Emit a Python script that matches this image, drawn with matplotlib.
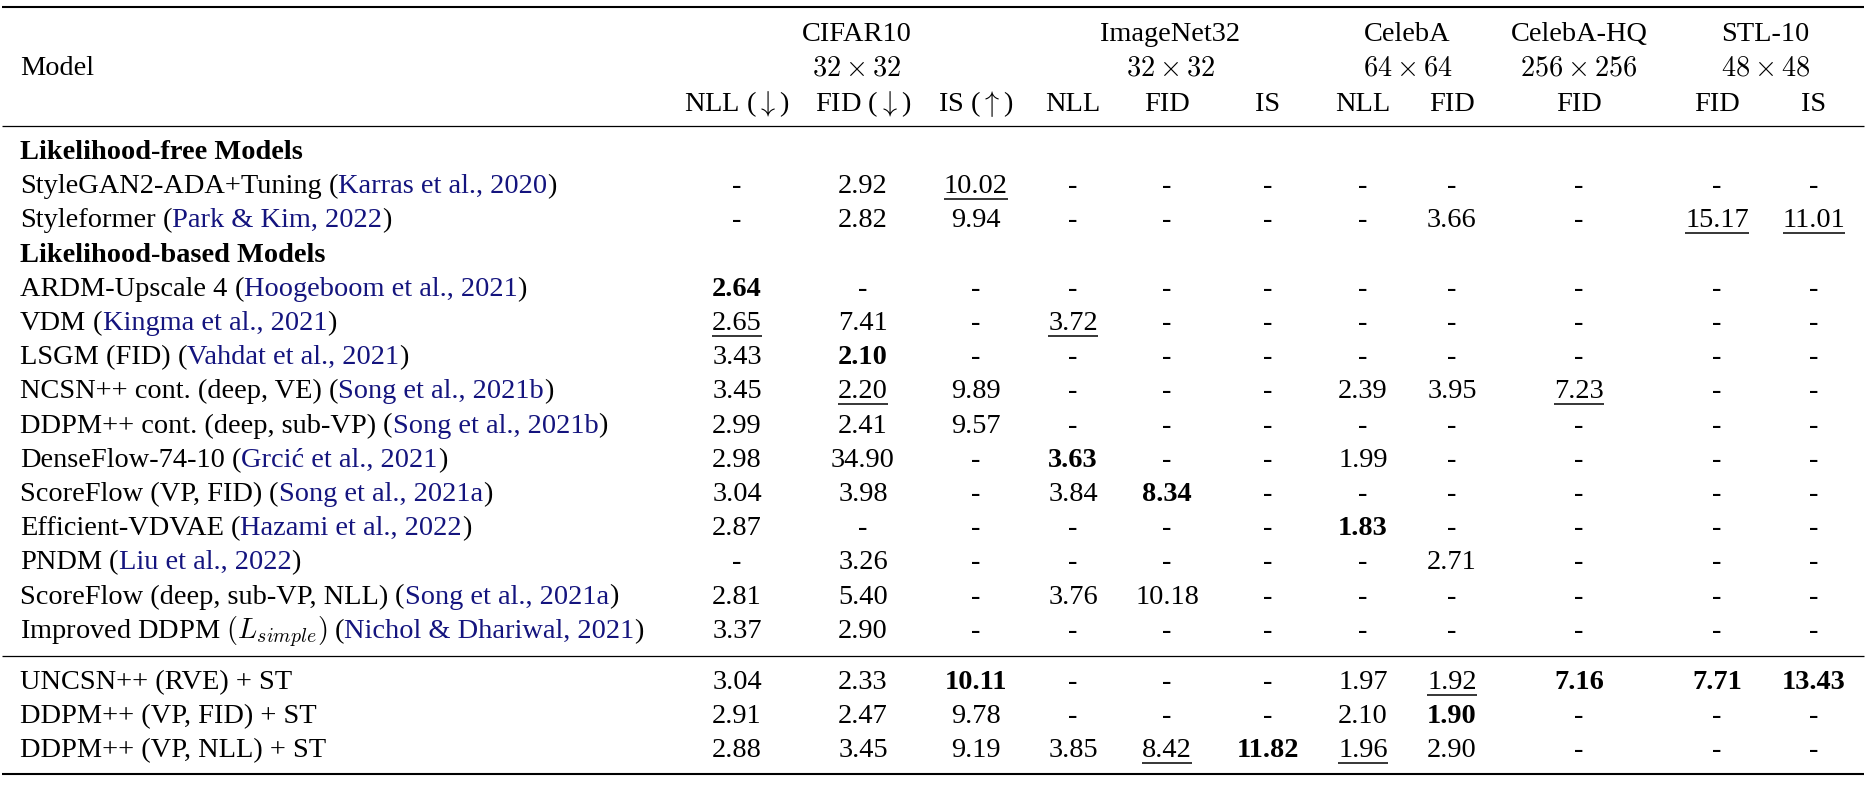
import matplotlib
matplotlib.use('Agg')
import matplotlib.pyplot as plt

plt.rcParams['font.family'] = ['Liberation Serif', 'DejaVu Serif']
plt.rcParams['mathtext.fontset'] = 'cm'

# data
groups = ['CIFAR10', 'ImageNet32', 'CelebA', 'CelebA-HQ', 'STL-10']
group_res = [r'$32\times32$', r'$32\times32$', r'$64\times64$', r'$256\times256$', r'$48\times48$']
group_cols = [(0, 2), (3, 5), (6, 7), (8, 8), (9, 10)]
metrics = [r'NLL ($\downarrow$)', r'FID ($\downarrow$)', r'IS ($\uparrow$)',
           'NLL', 'FID', 'IS', 'NLL', 'FID', 'FID', 'FID', 'IS']

sections = ['Likelihood-free Models', 'Likelihood-based Models']
models = ['StyleGAN2-ADA+Tuning', 'Styleformer', 'ARDM-Upscale 4', 'VDM', 'LSGM (FID)',
          'NCSN++ cont. (deep, VE)', 'DDPM++ cont. (deep, sub-VP)', 'DenseFlow-74-10',
          'ScoreFlow (VP, FID)', 'Efficient-VDVAE', 'PNDM', 'ScoreFlow (deep, sub-VP, NLL)',
          r'Improved DDPM $(L_{simple})$',
          'UNCSN++ (RVE) + ST', 'DDPM++ (VP, FID) + ST', 'DDPM++ (VP, NLL) + ST']
citations = ['Karras et al., 2020', 'Park & Kim, 2022', 'Hoogeboom et al., 2021',
             'Kingma et al., 2021', 'Vahdat et al., 2021', 'Song et al., 2021b',
             'Song et al., 2021b', 'Grcić et al., 2021', 'Song et al., 2021a',
             'Hazami et al., 2022', 'Liu et al., 2022', 'Song et al., 2021a',
             'Nichol & Dhariwal, 2021', None, None, None]
values = [
    ['-', '2.92', '10.02', '-', '-', '-', '-', '-', '-', '-', '-'],
    ['-', '2.82', '9.94', '-', '-', '-', '-', '3.66', '-', '15.17', '11.01'],
    ['2.64', '-', '-', '-', '-', '-', '-', '-', '-', '-', '-'],
    ['2.65', '7.41', '-', '3.72', '-', '-', '-', '-', '-', '-', '-'],
    ['3.43', '2.10', '-', '-', '-', '-', '-', '-', '-', '-', '-'],
    ['3.45', '2.20', '9.89', '-', '-', '-', '2.39', '3.95', '7.23', '-', '-'],
    ['2.99', '2.41', '9.57', '-', '-', '-', '-', '-', '-', '-', '-'],
    ['2.98', '34.90', '-', '3.63', '-', '-', '1.99', '-', '-', '-', '-'],
    ['3.04', '3.98', '-', '3.84', '8.34', '-', '-', '-', '-', '-', '-'],
    ['2.87', '-', '-', '-', '-', '-', '1.83', '-', '-', '-', '-'],
    ['-', '3.26', '-', '-', '-', '-', '-', '2.71', '-', '-', '-'],
    ['2.81', '5.40', '-', '3.76', '10.18', '-', '-', '-', '-', '-', '-'],
    ['3.37', '2.90', '-', '-', '-', '-', '-', '-', '-', '-', '-'],
    ['3.04', '2.33', '10.11', '-', '-', '-', '1.97', '1.92', '7.16', '7.71', '13.43'],
    ['2.91', '2.47', '9.78', '-', '-', '-', '2.10', '1.90', '-', '-', '-'],
    ['2.88', '3.45', '9.19', '3.85', '8.42', '11.82', '1.96', '2.90', '-', '-', '-'],
]
bold_cells = [(2, 0), (4, 1), (7, 3), (8, 4), (9, 6), (13, 2), (13, 8), (13, 9),
              (13, 10), (14, 7), (15, 5)]
underline_cells = [(0, 2), (1, 9), (1, 10), (3, 0), (3, 3), (5, 1), (5, 8), (13, 7),
                   (15, 4), (15, 6)]

# layout (pixels)
W, H = 1866, 786
FS = 20.4
col_x = [737, 863, 976, 1073, 1167, 1268, 1363, 1452, 1579, 1717, 1814]
x_left = 20
cite_color = '#14147e'

fig = plt.figure(figsize=(W / 100, H / 100), dpi=100)
ax = fig.add_axes([0, 0, 1, 1])
ax.set_xlim(0, W)
ax.set_ylim(H, 0)
ax.axis('off')
renderer = fig.canvas.get_renderer()


def put(x, yc, s, ha='center', bold=False, color='black', under=False):
    t = ax.text(x, yc + 9, s, ha=ha, va='baseline', fontsize=FS,
                fontweight='bold' if bold else 'normal', color=color)
    bb = t.get_window_extent(renderer).transformed(ax.transData.inverted())
    if under:
        ax.plot([bb.x0, bb.x1], [yc + 15, yc + 15], color='black', lw=1.1,
                solid_capstyle='butt')
    return bb


# rules
for y, lw in [(7, 1.5), (126, 0.9), (656, 0.9), (774, 1.5)]:
    ax.plot([2, W - 2], [y, y], color='black', lw=lw, solid_capstyle='butt')

# header
put(x_left, 66, 'Model', ha='left')
for g, r, (a, b) in zip(groups, group_res, group_cols):
    xc = (col_x[a] + col_x[b]) / 2
    put(xc, 32, g)
    put(xc, 67, r)
for x, m in zip(col_x, metrics):
    put(x, 102, m)

# body row positions
pitch = 34.2
slots = []
y = 150
order = [('s', 0), ('m', 0), ('m', 1), ('s', 1)] + [('m', i) for i in range(2, 13)]
for kind, i in order:
    slots.append((kind, i, y))
    y += pitch
for k, i in enumerate(range(13, 16)):
    slots.append(('m', i, 680 + 34 * k))

for kind, i, yc in slots:
    if kind == 's':
        put(x_left, yc, sections[i], ha='left', bold=True)
        continue
    bb = put(x_left, yc, models[i], ha='left')
    if citations[i]:
        x = bb.x1 + 7
        x = put(x, yc, '(', ha='left').x1
        x = put(x, yc, citations[i], ha='left', color=cite_color).x1
        put(x, yc, ')', ha='left')
    for j, v in enumerate(values[i]):
        put(col_x[j], yc, v, bold=(i, j) in bold_cells, under=(i, j) in underline_cells)

fig.savefig('out.png', dpi=100, facecolor='white')
